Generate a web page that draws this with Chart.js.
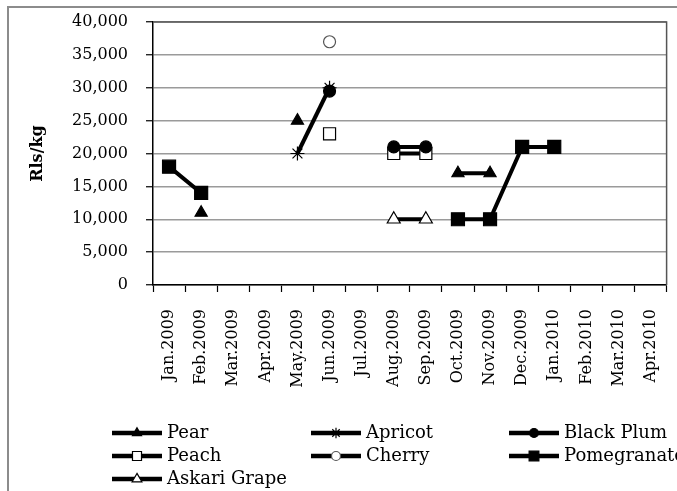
<!DOCTYPE html>
<html>
<head>
<meta charset="utf-8">
<script src="https://cdn.jsdelivr.net/npm/chart.js@4/dist/chart.umd.min.js"></script>
<style>
  html, body { margin: 0; padding: 0; background: #fff; }
  #wrap { width: 677px; height: 491px; }
</style>
</head>
<body>
<div id="wrap"><canvas id="priceChart" width="677" height="491"></canvas></div>
<script>
const months = ['Jan.2009', 'Feb.2009', 'Mar.2009', 'Apr.2009', 'May.2009', 'Jun.2009', 'Jul.2009', 'Aug.2009',
    'Sep.2009', 'Oct.2009', 'Nov.2009', 'Dec.2009', 'Jan.2010', 'Feb.2010', 'Mar.2010', 'Apr.2010'];

// Rls/kg per month, null where the fruit is not on sale
const pear        = [null, 11000, null, null, 25000, null, null, null, null, 17000, 17000, null, null, null, null, null];
const apricot     = [null, null, null, null, 20000, 30000, null, null, null, null, null, null, null, null, null, null];
const blackPlum   = [null, null, null, null, null, 29500, null, 21000, 21000, null, null, null, null, null, null, null];
const peach       = [null, null, null, null, null, 23000, null, 20000, 20000, null, null, null, null, null, null, null];
const cherry      = [null, null, null, null, null, 37000, null, null, null, null, null, null, null, null, null, null];
const pomegranate = [18000, 14000, null, null, null, null, null, null, null, 10000, 10000, 21000, 21000, null, null, null];
const askariGrape = [null, null, null, null, null, null, null, 10000, 10000, null, null, null, null, null, null, null];

const yMin = 0, yMax = 40000, yStep = 5000;

const SERIF = "'DejaVu Serif', 'Liberation Serif', serif";

function series(label, data, style, radius, fill, border) {
    return {
        label, data,
        borderColor: '#000',
        borderWidth: 4,
        spanGaps: false,
        pointStyle: style,
        pointRadius: radius,
        pointHoverRadius: radius,
        pointBackgroundColor: fill,
        pointBorderColor: border || '#000',
        pointBorderWidth: 1.2
    };
}

const datasets = [
    series('Pear', pear, 'triangle', 7, '#000'),
    series('Apricot', apricot, 'star', 7, '#000'),
    series('Black Plum', blackPlum, 'circle', 6, '#000'),
    series('Peach', peach, 'rect', 8.5, '#fff'),
    series('Cherry', cherry, 'circle', 6, '#fff', '#555'),
    series('Pomegranate', pomegranate, 'rect', 9.2, '#000'),
    series('Askari Grape', askariGrape, 'triangle', 7.5, '#fff')
];

// outer frame plus dark top/right edges of the plot area
const framePlugin = {
    id: 'frame',
    beforeDraw(chart) {
        const c = chart.ctx;
        c.save();
        c.fillStyle = '#fff';
        c.fillRect(0, 0, chart.width, chart.height);
        c.strokeStyle = '#8c8c8c';
        c.lineWidth = 2;
        c.strokeRect(8, 7, 720, 520);
        c.restore();
    },
    beforeDatasetsDraw(chart) {
        const a = chart.chartArea, c = chart.ctx;
        c.save();
        c.strokeStyle = '#555';
        c.lineWidth = 1.5;
        c.beginPath();
        c.moveTo(a.left, a.top);
        c.lineTo(a.right, a.top);
        c.lineTo(a.right, a.bottom);
        c.stroke();
        c.restore();
    }
};

// three-column legend below the axis labels
const legendCols = [112, 311, 509];
const legendRows = [433, 456, 479];
const legendPlugin = {
    id: 'gridLegend',
    afterDraw(chart) {
        const c = chart.ctx;
        c.save();
        chart.data.datasets.forEach((ds, i) => {
            const x = legendCols[i % 3];
            const y = legendRows[Math.floor(i / 3)];
            c.strokeStyle = '#000';
            c.lineWidth = 4.5;
            c.beginPath();
            c.moveTo(x, y);
            c.lineTo(x + 50, y);
            c.stroke();
            c.fillStyle = ds.pointBackgroundColor;
            c.strokeStyle = ds.pointBorderColor;
            c.lineWidth = 1.2;
            Chart.helpers.drawPoint(c, {
                pointStyle: ds.pointStyle,
                radius: ds.pointRadius * 0.75,
                rotation: 0,
                borderWidth: 1.2
            }, x + 25, y);
            c.fillStyle = '#000';
            c.font = '18px ' + SERIF;
            c.textAlign = 'left';
            c.textBaseline = 'middle';
            c.fillText(ds.label, x + 55, y);
        });
        c.restore();
    }
};

new Chart(document.getElementById('priceChart'), {
    type: 'line',
    data: { labels: months, datasets },
    options: {
        responsive: false,
        animation: false,
        layout: { padding: { top: 22, right: 9, left: 0, bottom: 0 } },
        plugins: {
            legend: { display: false },
            tooltip: { enabled: false }
        },
        scales: {
            x: {
                offset: true,
                grid: { offset: true, drawOnChartArea: false, tickLength: 7, tickColor: '#000', tickWidth: 1.2 },
                border: { color: '#000', width: 1.5 },
                ticks: {
                    autoSkip: false,
                    maxRotation: 90,
                    minRotation: 90,
                    padding: 17,
                    color: '#000',
                    font: { family: SERIF, size: 16 }
                },
                afterFit(scale) {
                    scale.height = 206;
                    scale.paddingLeft = 0;
                    scale.paddingRight = 0;
                }
            },
            y: {
                min: yMin,
                max: yMax,
                grid: { color: '#9a9a9a', lineWidth: 1.5, tickLength: 7, tickColor: '#000', tickWidth: 1.2 },
                border: { color: '#000', width: 1.5 },
                ticks: {
                    stepSize: yStep,
                    padding: 18,
                    color: '#000',
                    font: { family: SERIF, size: 16 },
                    callback: v => v.toLocaleString('en-US')
                },
                title: {
                    display: true,
                    text: 'Rls/kg',
                    color: '#000',
                    font: { family: SERIF, size: 16, weight: 'bold' },
                    padding: { top: 28, bottom: 0 }
                },
                afterFit(scale) {
                    scale.width = 153;
                    scale.paddingTop = 0;
                    scale.paddingBottom = 0;
                }
            }
        }
    },
    plugins: [framePlugin, legendPlugin]
});
</script>
</body>
</html>
